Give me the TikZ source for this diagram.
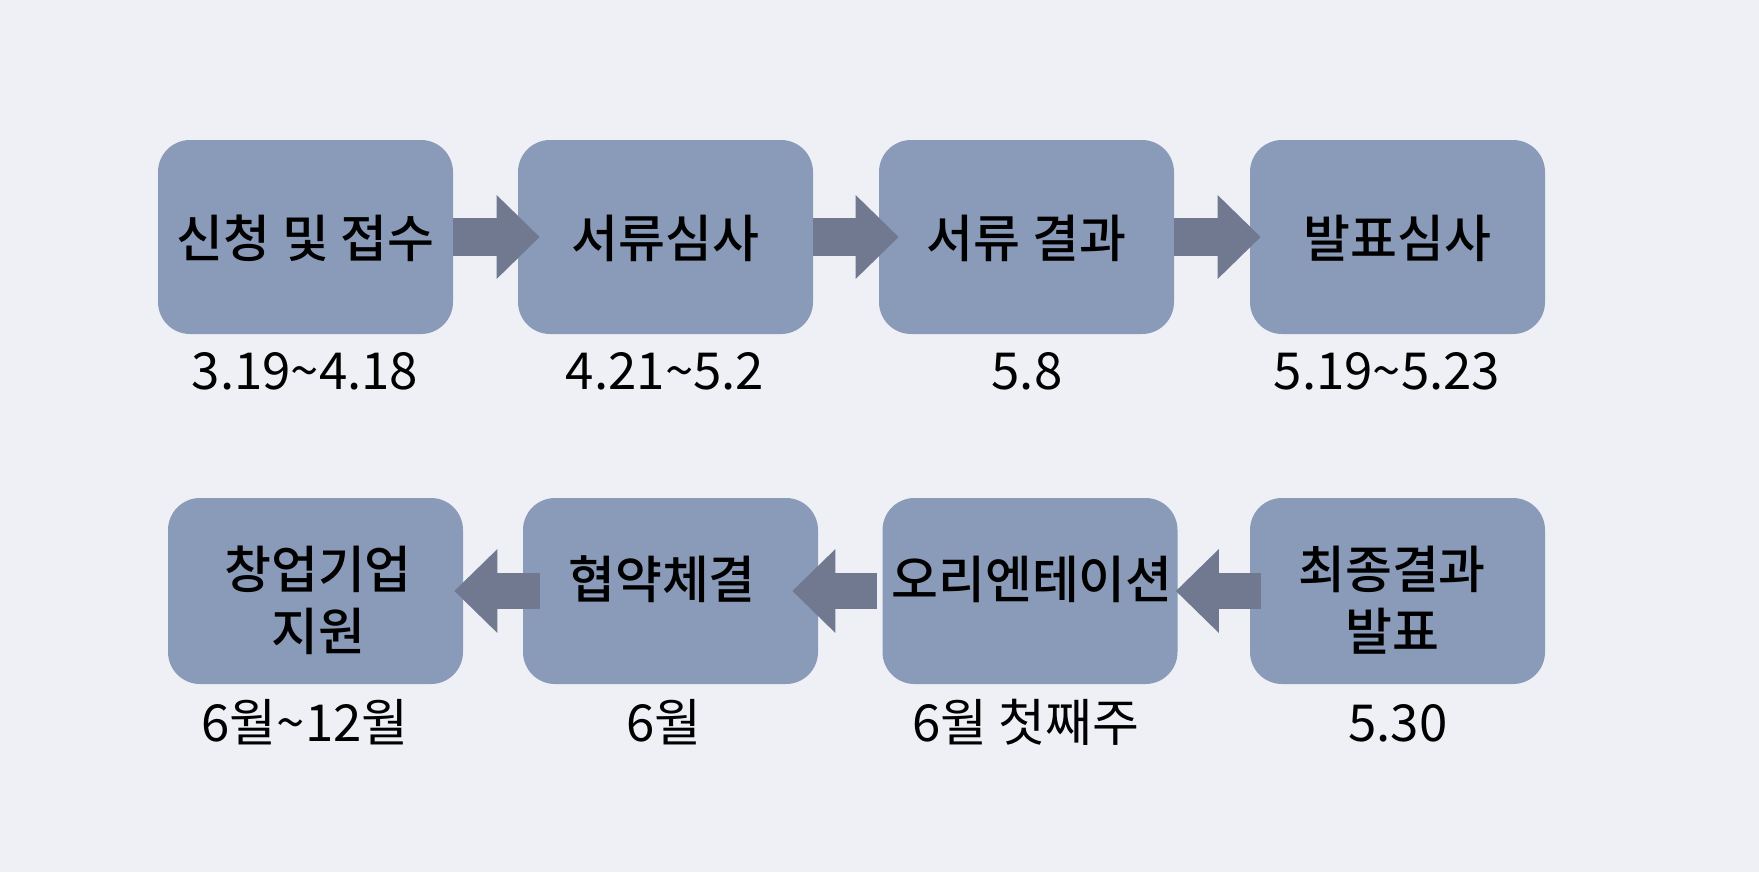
\documentclass[tikz,border=0pt]{standalone}
\usepackage{fontspec}
\setmainfont{Noto Sans CJK KR}[BoldFont={Noto Sans CJK KR Medium}]
\usetikzlibrary{arrows.meta}
\definecolor{bgcol}{HTML}{EFF0F5}
\definecolor{boxcol}{HTML}{8A9BB9}
\definecolor{arrcol}{HTML}{717991}
\begin{document}
\begin{tikzpicture}[x=0.5pt,y=-0.5pt]
\tikzset{stepbox/.style={fill=boxcol,rounded corners=16pt,minimum width=147.5pt,inner sep=0pt},
  steplbl/.style={anchor=base,font=\bfseries\fontsize{25.5}{31}\selectfont,align=center,inner sep=0pt},
  datelbl/.style={anchor=base,font=\fontsize{25.5}{30}\selectfont,inner sep=0pt},
  flowarrow/.style={draw=arrcol,-{Triangle[length=21.5pt,width=42pt,line width=0pt]}}};
\fill[bgcol] (0,0) rectangle (1759,872);
\useasboundingbox (0,0) rectangle (1759,872);

% top row
\node[stepbox,minimum height=97pt] (apply) at (305.5,237) {};
\node[stepbox,minimum height=97pt] (docrev) at (665.5,237) {};
\node[stepbox,minimum height=97pt] (docres) at (1026.5,237) {};
\node[stepbox,minimum height=97pt] (pres) at (1397.5,237) {};
\node[steplbl] (tApply) at (305.5,257) {신청 및 접수};
\node[steplbl] (tDocrev) at (665.5,257) {서류심사};
\node[steplbl] (tDocres) at (1026.5,257) {서류 결과};
\node[steplbl] (tPres) at (1397.5,257) {발표심사};
\node[datelbl] (dApply) at (305,389) {3.19\textasciitilde4.18};
\node[datelbl] (dDocrev) at (665,389) {4.21\textasciitilde5.2};
\node[datelbl] (dDocres) at (1027,389) {5.8};
\node[datelbl] (dPres) at (1387,389) {5.19\textasciitilde5.23};

% bottom row
\node[stepbox,minimum height=93pt] (support) at (315.5,591) {};
\node[stepbox,minimum height=93pt] (contract) at (670.5,591) {};
\node[stepbox,minimum height=93pt] (orient) at (1030,591) {};
\node[stepbox,minimum height=93pt] (final) at (1397.5,591) {};
\node[steplbl,anchor=center] (tSupport) at (318,600) {창업기업\\지원};
\node[steplbl] (tContract) at (662,598) {협약체결};
\node[steplbl] (tOrient) at (1032,598) {오리엔테이션};
\node[steplbl,anchor=center] (tFinal) at (1392,600) {최종결과\\발표};
\node[datelbl] (dSupport) at (305,741) {6월\textasciitilde12월};
\node[datelbl] (dContract) at (664,741) {6월};
\node[datelbl] (dOrient) at (1026,741) {6월 첫째주};
\node[datelbl] (dFinal) at (1398,741) {5.30};

% arrows
\draw[flowarrow,line width=19pt] (apply.east) -- ([xshift=11pt]docrev.west);
\draw[flowarrow,line width=19pt] (docrev.east) -- ([xshift=10pt]docres.west);
\draw[flowarrow,line width=19pt] (docres.east) -- ([xshift=5.5pt]pres.west);
\draw[flowarrow,line width=18pt] ([xshift=5.5pt]final.west) -- ([xshift=-1pt]orient.east);
\draw[flowarrow,line width=18pt] ([xshift=-2.5pt]orient.west) -- ([xshift=-13pt]contract.east);
\draw[flowarrow,line width=18pt] ([xshift=8.5pt]contract.west) -- ([xshift=-4.5pt]support.east);
\end{tikzpicture}
\end{document}
